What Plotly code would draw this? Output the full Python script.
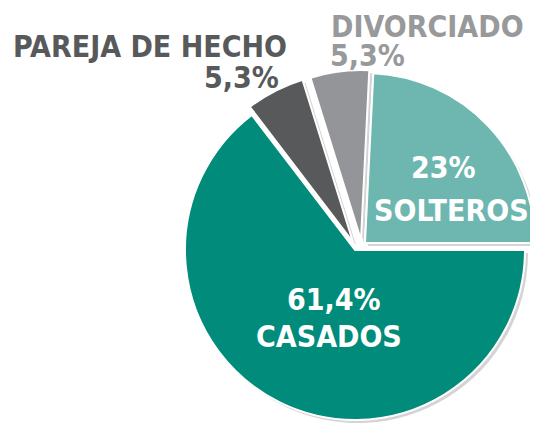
import plotly.graph_objects as go

# ---- data ----
LABELS = ["SOLTEROS", "CASADOS", "PAREJA DE HECHO", "DIVORCIADO"]
VALUES = [23, 61.4, 5.3, 5.3]
COLORS = ["#6DB7B0", "#008B7A", "#58595B", "#939598"]
TEXT_COLORS = ["#FFFFFF", "#FFFFFF", "#58595B", "#98999B"]

# ---- layout / style ----
OFF = 8                      # default page body margin
W, H = 538 - OFF, 427 - OFF  # figure size so it fits the window
R = 170
# slice centres in window pixels (exploded slices)
CENTERS = [(365, 243), (355, 250), (353, 242), (361, 240)]
SHADOW_DX, SHADOW_DY = 3, 3
SHADOW = "#D4D4D6"
ROT = 2.8
FONT = "DejaVu Sans Condensed, DejaVu Sans, sans-serif"
FS = 30


def fmt(v):
    return f"{v:g}".replace(".", ",") + "%"


def domain(cx, cy, r):
    cx, cy = cx - OFF, cy - OFF
    x0, x1 = (cx - r) / W, (cx + r) / W
    y0, y1 = 1 - (cy + r) / H, 1 - (cy - r) / H
    return dict(x=[max(0, x0), min(1, x1)], y=[max(0, y0), min(1, y1)])


fig = go.Figure()
n = len(VALUES)
# shadows
for i in range(n):
    cx, cy = CENTERS[i]
    cols = [SHADOW if j == i else "rgba(0,0,0,0)" for j in range(n)]
    fig.add_trace(go.Pie(
        labels=LABELS, values=VALUES, sort=False, direction="clockwise",
        rotation=ROT, textinfo="none", hoverinfo="skip", showlegend=False,
        marker=dict(colors=cols, line=dict(width=0)),
        domain=domain(cx + SHADOW_DX, cy + SHADOW_DY, R),
    ))
# slices
for i in range(n):
    cx, cy = CENTERS[i]
    cols = [COLORS[j] if j == i else "rgba(0,0,0,0)" for j in range(n)]
    widths = [2 if j == i else 0 for j in range(n)]
    fig.add_trace(go.Pie(
        labels=LABELS, values=VALUES, sort=False, direction="clockwise",
        rotation=ROT, textinfo="none", showlegend=False,
        hovertemplate="%{label}: %{value}%<extra></extra>",
        marker=dict(colors=cols, line=dict(color="white", width=widths)),
        domain=domain(cx, cy, R),
    ))

# label lines: (text, x px, y px (cap centre), xanchor, colour index) in window px
ann_specs = [
    (fmt(VALUES[0]), 443, 168, "center", 0),
    (LABELS[0], 451, 210, "center", 0),
    (fmt(VALUES[1]), 334, 299, "center", 1),
    (LABELS[1], 329, 336, "center", 1),
    (LABELS[2], 150, 46, "center", 2),
    (fmt(VALUES[2]), 281, 77.5, "right", 2),
    (LABELS[3], 427, 26.5, "center", 3),
    (fmt(VALUES[3]), 328, 55, "left", 3),
]
for text, x, y, xa, ci in ann_specs:
    fig.add_annotation(
        x=(x - OFF) / W, y=1 - (y - OFF) / H, xref="paper", yref="paper",
        text=text, showarrow=False, xanchor=xa, yanchor="middle",
        font=dict(family=FONT, size=FS, color=TEXT_COLORS[ci], weight="bold"),
    )

fig.update_layout(
    width=W, height=H, margin=dict(l=0, r=0, t=0, b=0),
    paper_bgcolor="white", plot_bgcolor="white", showlegend=False,
)
fig.write_html("out.html")
